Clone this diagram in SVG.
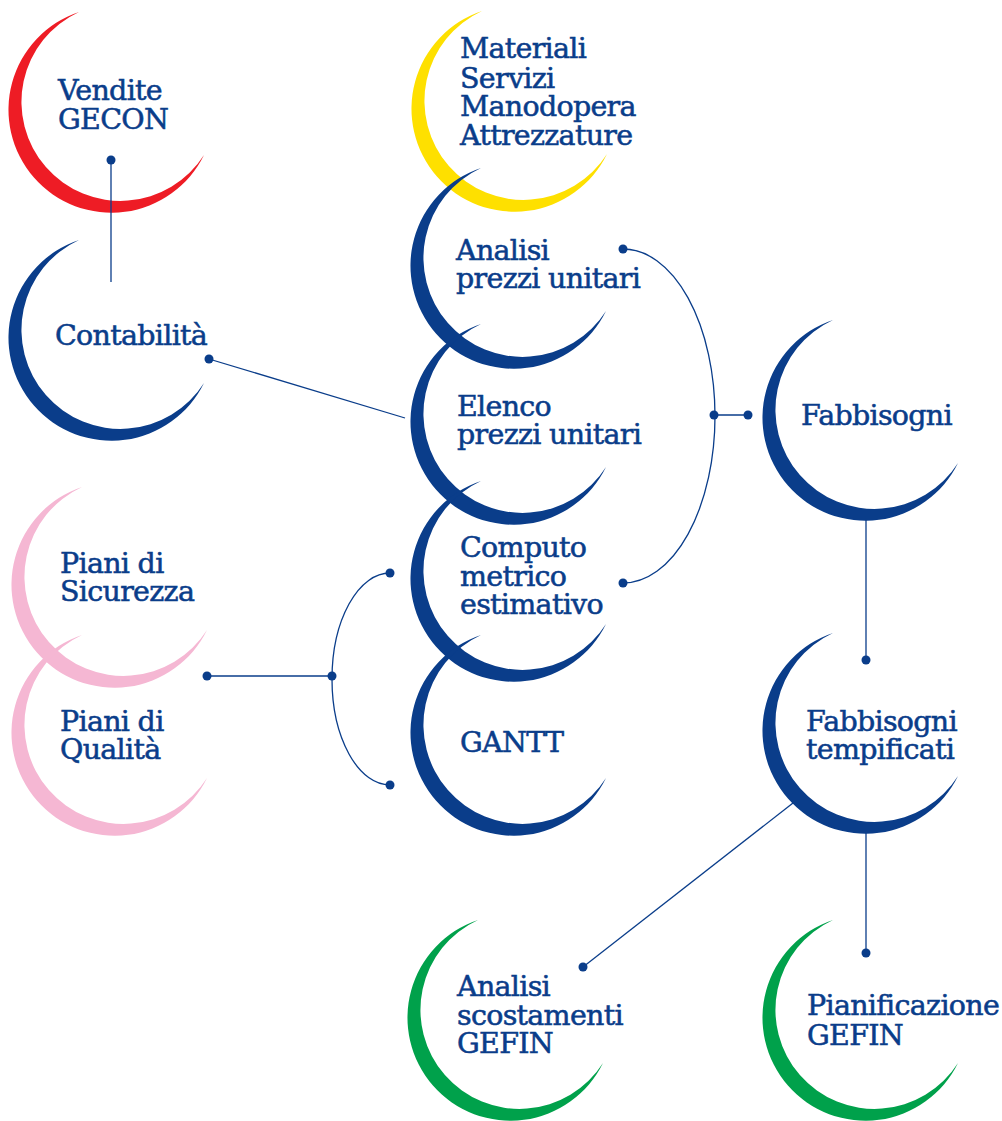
<svg xmlns="http://www.w3.org/2000/svg" width="1002" height="1121" viewBox="0 0 1002 1121">
<style>
.lbl{font-family:"DejaVu Serif","Liberation Serif",serif;font-size:28.5px;fill:#0a3d8a;stroke:#0a3d8a;stroke-width:0.55;letter-spacing:-0.7px}
.con{fill:none;stroke:#0a3d8a;stroke-width:1.3}
.dot{fill:#0a3d8a}
.blue{fill:#0a3d8a}
.red{fill:#ee1c25}
.yellow{fill:#fee000}
.pink{fill:#f5b7d3}
.green{fill:#00a14b}
</style>
<defs>
<path id="cr" d="M -33,-97 A 103 103 0 1 0 92,46 A 99 99 0 1 1 -33,-97 Z"/>
</defs>
<rect width="1002" height="1121" fill="#ffffff"/>
<g id="vendite">
<use href="#cr" class="red" transform="translate(112,109)"/>
<text class="lbl" x="58" y="100">Vendite</text>
<text class="lbl" x="58" y="129">GECON</text>
</g>
<g id="materiali">
<use href="#cr" class="yellow" transform="translate(515,108)"/>
<text class="lbl" x="460" y="58">Materiali</text>
<text class="lbl" x="460" y="88">Servizi</text>
<text class="lbl" x="460" y="116">Manodopera</text>
<text class="lbl" x="460" y="145">Attrezzature</text>
</g>
<g id="contabilita">
<use href="#cr" class="blue" transform="translate(112,337)"/>
<text class="lbl" x="55" y="345">Contabilità</text>
</g>
<g id="analisi-prezzi">
<use href="#cr" class="blue" transform="translate(514,265)"/>
<text class="lbl" x="456" y="260">Analisi</text>
<text class="lbl" x="456" y="288">prezzi unitari</text>
</g>
<g id="elenco-prezzi">
<use href="#cr" class="blue" transform="translate(514,421)"/>
<text class="lbl" x="457" y="416">Elenco</text>
<text class="lbl" x="457" y="444">prezzi unitari</text>
</g>
<g id="piani-sicurezza">
<use href="#cr" class="pink" transform="translate(115,584)"/>
<text class="lbl" x="60" y="573">Piani di</text>
<text class="lbl" x="60" y="601">Sicurezza</text>
</g>
<g id="piani-qualita">
<use href="#cr" class="pink" transform="translate(115,732)"/>
<text class="lbl" x="60" y="731">Piani di</text>
<text class="lbl" x="60" y="759">Qualità</text>
</g>
<g id="computo">
<use href="#cr" class="blue" transform="translate(514,578)"/>
<text class="lbl" x="460" y="557">Computo</text>
<text class="lbl" x="460" y="586">metrico</text>
<text class="lbl" x="460" y="614">estimativo</text>
</g>
<g id="gantt">
<use href="#cr" class="blue" transform="translate(514,732)"/>
<text class="lbl" x="460" y="752">GANTT</text>
</g>
<g id="fabbisogni">
<use href="#cr" class="blue" transform="translate(866,417)"/>
<text class="lbl" x="801" y="425">Fabbisogni</text>
</g>
<g id="fabbisogni-tempificati">
<use href="#cr" class="blue" transform="translate(866,730)"/>
<text class="lbl" x="806" y="731">Fabbisogni</text>
<text class="lbl" x="806" y="759">tempificati</text>
</g>
<g id="analisi-scostamenti">
<use href="#cr" class="green" transform="translate(511,1017)"/>
<text class="lbl" x="457" y="996">Analisi</text>
<text class="lbl" x="457" y="1025">scostamenti</text>
<text class="lbl" x="457" y="1053">GEFIN</text>
</g>
<g id="pianificazione">
<use href="#cr" class="green" transform="translate(866,1017)"/>
<text class="lbl" x="807" y="1015">Pianificazione</text>
<text class="lbl" x="807" y="1045">GEFIN</text>
</g>
<g id="connectors">
<path class="con" d="M111,160 V282"/>
<circle class="dot" cx="111" cy="160" r="4.5"/>
<path class="con" d="M209,359 L405,418"/>
<circle class="dot" cx="209" cy="359" r="4.5"/>
<path class="con" d="M623,249 A 92 167 0 0 1 623,583"/>
<path class="con" d="M714,415 H748"/>
<circle class="dot" cx="623" cy="249" r="4.5"/>
<circle class="dot" cx="623" cy="583" r="4.5"/>
<circle class="dot" cx="714" cy="415" r="4.5"/>
<circle class="dot" cx="748" cy="415" r="4.5"/>
<path class="con" d="M390,573 A 58 106 0 0 0 390,785"/>
<path class="con" d="M207,676 H332"/>
<circle class="dot" cx="390" cy="573" r="4.5"/>
<circle class="dot" cx="390" cy="785" r="4.5"/>
<circle class="dot" cx="332" cy="676" r="4.5"/>
<circle class="dot" cx="207" cy="676" r="4.5"/>
<path class="con" d="M866,520 V660"/>
<circle class="dot" cx="866" cy="660" r="4.5"/>
<path class="con" d="M793,803 L583,967"/>
<circle class="dot" cx="583" cy="967" r="4.5"/>
<path class="con" d="M866,833 V953"/>
<circle class="dot" cx="866" cy="953" r="4.5"/>
</g>
</svg>
